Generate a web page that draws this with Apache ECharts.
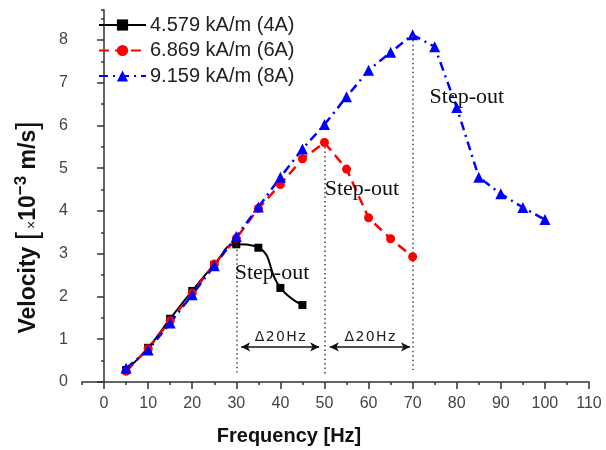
<!DOCTYPE html>
<html>
<head>
<meta charset="utf-8">
<script src="https://cdn.jsdelivr.net/npm/echarts@6/dist/echarts.min.js"></script>
<style>html,body{margin:0;padding:0;background:#fff}#c{width:606px;height:450px}</style>
</head>
<body>
<div id="c"></div>
<script>
// ---- data ----
var names = ['4.579 kA/m (4A)', '6.869 kA/m (6A)', '9.159 kA/m (8A)'];
var freq4 = [5, 10, 15, 20, 25, 30, 35, 40, 45];
var vel4 = [0.28, 0.8, 1.48, 2.13, 2.74, 3.22, 3.14, 2.2, 1.8];
var freq6 = [5, 10, 15, 20, 25, 30, 35, 40, 45, 50, 55, 60, 65, 70];
var vel6 = [0.25, 0.78, 1.43, 2.08, 2.76, 3.36, 4.06, 4.62, 5.22, 5.6, 4.98, 3.84, 3.35, 2.93];
var freq8 = [5, 10, 15, 20, 25, 30, 35, 40, 45, 50, 55, 60, 65, 70, 75, 80, 85, 90, 95, 100];
var vel8 = [0.32, 0.75, 1.38, 2.04, 2.72, 3.4, 4.09, 4.79, 5.45, 6.02, 6.67, 7.29, 7.71, 8.12, 7.84, 6.42, 4.79, 4.4, 4.08, 3.8];
var xTicks = [0, 10, 20, 30, 40, 50, 60, 70, 80, 90, 100, 110];
var yTicks = [0, 1, 2, 3, 4, 5, 6, 7, 8];
// annotations (data coordinates)
var dropX = [30, 50, 70];
var dropTop = [3.2, 5.6, 8.1];
var dropBottom = [0.22, 0.15, 0.28];
var arrowY = 0.82;
var arrowFrom = [31.1, 51.2];
var arrowTo = [48.8, 69.4];
var arrowText = ['\u039420Hz', '\u039420Hz'];
var stepX = [38.1, 58.5, 82.3];
var stepY = [2.55, 4.5, 6.65];
var stepText = ['Step-out', 'Step-out', 'Step-out'];
// y-axis title pieces
var yTitleParts = ['Velocity ', '[', '\u00d7', '10', '\u22123', ' m/s', ']'];

function pairs(xs, ys) { return xs.map(function (x, i) { return [x, ys[i]]; }); }
function spaced(t) { return t.split('').map(function (ch) { return '{c|' + ch + '}'; }).join(''); }

var markLines = [];
dropX.forEach(function (x, i) {
  markLines.push([{ coord: [x, dropTop[i]], symbol: 'none', lineStyle: { type: [1.5, 3], color: '#444', width: 1.5 }, label: { show: false } },
                  { coord: [x, dropBottom[i]], symbol: 'none' }]);
});
arrowFrom.forEach(function (x0, i) {
  markLines.push([{ coord: [x0, arrowY], symbol: 'arrow', lineStyle: { type: 'solid', color: '#111', width: 1.5 },
                    label: { show: true, formatter: spaced(arrowText[i]), position: 'insideMiddleTop', distance: 3,
                             rich: { c: { fontFamily: 'DejaVu Sans', fontSize: 14, color: '#222', padding: [0, 0.7] } } } },
                  { coord: [arrowTo[i], arrowY], symbol: 'arrow' }]);
});
var markPts = stepX.map(function (x, i) {
  return { coord: [x, stepY[i]], value: stepText[i] };
});

// build rotated y title from measured pieces (reads bottom to top)
var partStyle = [
  { size: 23, weight: 'bold', dx: 0 },
  { size: 30, weight: 'normal', dx: 0 },
  { size: 14, weight: 'normal', dx: 3 },
  { size: 23, weight: 'bold', dx: 0 },
  { size: 17, weight: 'bold', dx: -8 },
  { size: 23, weight: 'bold', dx: 0 },
  { size: 30, weight: 'normal', dx: 0 }
];
var mctx = document.createElement('canvas').getContext('2d');
var widths = yTitleParts.map(function (t, i) {
  mctx.font = partStyle[i].weight + ' ' + partStyle[i].size + 'px "Liberation Sans"';
  return mctx.measureText(t).width + ((i === 1 || i === 6) ? 3 : 0);
});
var total = widths.reduce(function (a, b) { return a + b; }, 0);
var titleCx = 29, titleCy = 226;
var cur = titleCy + total / 2;
var titleGraphics = yTitleParts.map(function (t, i) {
  var g = {
    type: 'text', x: titleCx + partStyle[i].dx, y: cur, rotation: Math.PI / 2,
    style: { text: t, align: 'left', verticalAlign: 'middle', fontFamily: 'Liberation Sans',
             fontSize: partStyle[i].size, fontWeight: partStyle[i].weight, fill: '#111' }
  };
  cur -= widths[i];
  return g;
});

var axisCol = '#333';
var chart = echarts.init(document.getElementById('c'));
chart.setOption({
  animation: false,
  backgroundColor: '#fff',
  grid: { left: 82, right: 17, top: 10, bottom: 68 },
  legend: {
    orient: 'vertical', left: 98, top: 15, padding: 0, itemGap: 5.5, itemWidth: 47, itemHeight: 14,
    data: names,
    textStyle: { fontFamily: 'Liberation Sans', fontSize: 20, color: '#222', padding: [0, 0, 0, -1] }
  },
  xAxis: [{
    type: 'value', min: -5, max: 110, interval: 5,
    axisLine: { show: true, lineStyle: { color: axisCol, width: 1.5 } },
    axisTick: { show: true, length: 3, lineStyle: { color: axisCol, width: 1.5 } },
    axisLabel: { show: false }, splitLine: { show: false }
  }, {
    type: 'value', min: -5, max: 110, interval: 5, position: 'bottom',
    axisLine: { show: false },
    axisTick: { show: true, length: 7, customValues: xTicks, lineStyle: { color: axisCol, width: 1.5 } },
    axisLabel: { show: true, customValues: xTicks, margin: 14, fontFamily: 'Liberation Sans', fontSize: 16, color: '#444' },
    splitLine: { show: false }
  }],
  yAxis: [{
    type: 'value', min: 0, max: 8.7, interval: 1,
    axisLine: { show: true, lineStyle: { color: axisCol, width: 1.5 } },
    axisTick: { show: true, length: 7, customValues: yTicks, lineStyle: { color: axisCol, width: 1.5 } },
    axisLabel: { show: true, customValues: yTicks, margin: 14, fontFamily: 'Liberation Sans', fontSize: 16, color: '#444' },
    splitLine: { show: false }
  }, {
    type: 'value', min: 0, max: 8.7, interval: 0.5, position: 'left',
    axisLine: { show: false },
    axisTick: { show: true, length: 3, lineStyle: { color: axisCol, width: 1.5 } },
    axisLabel: { show: false }, splitLine: { show: false }
  }],
  series: [{
    name: names[0], type: 'line', data: pairs(freq4, vel4), smooth: 0.5,
    symbol: 'rect', symbolSize: 8,
    itemStyle: { color: '#000' }, lineStyle: { color: '#000', width: 2 },
    markLine: { silent: true, symbolSize: [7, 9], data: markLines },
    markPoint: {
      silent: true, symbol: 'rect', symbolSize: 1, itemStyle: { color: 'rgba(0,0,0,0)' },
      label: { show: true, position: 'inside', formatter: function (p) { return p.value; },
               fontFamily: 'Liberation Serif', fontSize: 22, color: '#111' },
      data: markPts
    }
  }, {
    name: names[1], type: 'line', data: pairs(freq6, vel6),
    symbol: 'circle', symbolSize: 9,
    itemStyle: { color: '#f00' }, lineStyle: { color: '#f00', width: 2.5, type: [10, 6] }
  }, {
    name: names[2], type: 'line', data: pairs(freq8, vel8),
    symbol: 'triangle', symbolSize: 11,
    itemStyle: { color: '#00f' }, lineStyle: { color: '#00f', width: 2.5, type: [9, 5, 2, 5] }
  }],
  graphic: titleGraphics.concat([{
    type: 'text', x: 289, y: 436,
    style: { text: 'Frequency [Hz]', align: 'center', verticalAlign: 'middle',
             fontFamily: 'Liberation Sans', fontSize: 20, fontWeight: 'bold', fill: '#111' }
  }])
});
</script>
</body>
</html>
